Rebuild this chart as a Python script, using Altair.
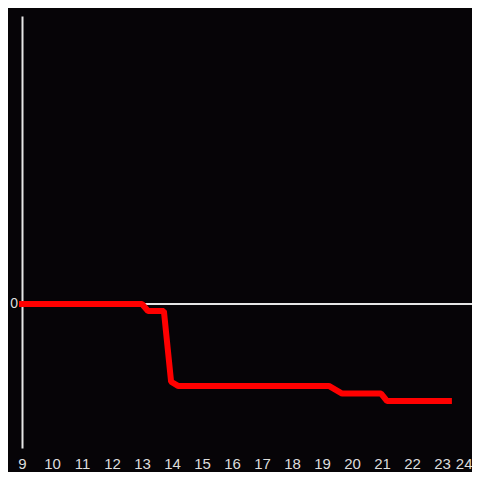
import altair as alt
import pandas as pd

# Line data (x in axis units, y value)
xs = [9.0, 13.0, 13.2, 13.73, 13.97, 14.2, 19.23, 19.67, 20.97, 21.17, 23.23]
ys = [0.0, 0.0, -0.049, -0.049, -0.54, -0.569, -0.569, -0.622, -0.622, -0.674, -0.674]
x_ticks = list(range(9, 25))
y_ticks = [0]

df = pd.DataFrame({"x": xs, "y": ys, "order": list(range(len(xs)))})
zero_df = pd.DataFrame({"y": y_ticks, "label": [str(v) for v in y_ticks]})

xscale = alt.Scale(domain=[9, 24], nice=False, zero=False)
yscale = alt.Scale(domain=[-1, 2], nice=False)

rule = alt.Chart(zero_df).mark_rule(color="#e6e6e6", strokeWidth=2).encode(
    y=alt.Y("y:Q", scale=yscale,
            axis=alt.Axis(values=y_ticks, title=None, grid=False, ticks=False, tickSize=0,
                          labels=False, domainColor="#e6e6e6", domainWidth=2)),
)

ylabel = alt.Chart(zero_df).mark_text(
    align="right", baseline="middle", dx=-4, fontSize=14,
    font="Liberation Sans", color="#dddddd",
).encode(
    x=alt.value(0),
    y=alt.Y("y:Q", scale=yscale),
    text="label:N",
)

line = alt.Chart(df).mark_line(color="#ff0000", strokeWidth=6,
                               strokeCap="square", strokeJoin="bevel").encode(
    x=alt.X("x:Q", scale=xscale,
            axis=alt.Axis(values=x_ticks, title=None, grid=False, ticks=False, tickSize=0,
                          domain=False, labelColor="#dddddd", labelFontSize=15,
                          labelFont="Liberation Sans", labelPadding=8,
                          labelFlush=False, labelOverlap=False,
                          labelAlign=alt.ExprRef("datum.value == 24 ? 'right' : 'center'"))),
    y=alt.Y("y:Q", scale=yscale),
    order="order:Q",
)

chart = (rule + ylabel + line).properties(
    width=450, height=432,
    background="#060407",
    autosize=alt.AutoSizeParams(type="none"),
    padding={"left": 14, "top": 8, "right": 0, "bottom": 24},
).configure_view(stroke=None)

chart.save("out.html", embed_options={"renderer": "svg", "actions": False})
